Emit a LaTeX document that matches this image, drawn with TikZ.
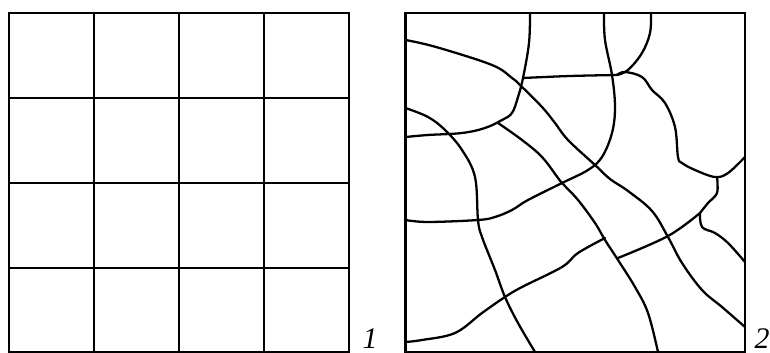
\documentclass[tikz,border=0pt]{standalone}
\usepackage{fontspec}
\setmainfont{Liberation Serif}

\tikzset{
  frame/.style={line width=1.4pt},
  crack/.style={line width=1.3pt, line join=round, line cap=round},
  numlabel/.style={font=\fontsize{17}{17}\selectfont\itshape, inner sep=0pt}
}

\begin{document}
\begin{tikzpicture}[x=0.2mm,y=-0.2mm]
  \useasboundingbox (0,0) rectangle (770,353);

  % Regular grid (left square)
  \draw[frame] (9,13) rectangle (349,352);
  \foreach \i in {1,2,3} {
    \draw[frame] (9+85*\i,13) -- (9+85*\i,352);
    \draw[frame] (9,13+85*\i) -- (349,13+85*\i);
  }
  \node[numlabel] (lblgrid) at (370,339) {1};

  % Irregular network (right square)
  \draw[frame] (405.5,13) rectangle (745,352);
  \draw[crack] plot[smooth,tension=0.6] coordinates {(405.5,40) (436,47) (492,65) (512,78) (520,85) (542,107) (555,123) (568,140) (595,165) (610,179) (628,191) (652,211) (668,237) (682,263) (702,290) (722,307) (745,327)};
  \draw[crack] plot[smooth,tension=0.6] coordinates {(530,13) (529,43) (523,78) (518,97) (512,113) (502,120) (485,128) (462,133) (428,135) (405.5,137)};
  \draw[crack] plot[smooth,tension=0.6] coordinates {(523,78) (570,76) (617,75)};
  \draw[crack] plot[smooth,tension=0.6] coordinates {(604,13) (605,40) (612,75) (615,107) (612,133) (602,157) (588,170) (562,183) (528,200) (512,210) (495,217) (478,220) (428,222) (405.5,220)};
  \draw[crack] plot[smooth,tension=0.6] coordinates {(405.5,108) (428,117) (445,130) (462,150) (475,177) (478,220) (482,237) (495,270) (505,297) (518,323) (535,352)};
  \draw[crack] plot[smooth,tension=0.6] coordinates {(498,123) (522,140) (542,157) (558,178) (562,183) (578,200) (595,223) (605,240) (618,260) (635,287) (648,313) (658,352)};
  \draw[crack] plot[smooth,tension=0.6] coordinates {(651,13) (650,33) (642,53) (628,70) (617,75)};
  \draw[crack] plot[smooth,tension=0.6] coordinates {(617,75) (625,72) (642,77) (652,90) (665,103) (675,127) (678,157) (682,163) (695,170) (715,177) (728,173) (745,157)};
  \draw[crack] plot[smooth,tension=0.6] coordinates {(717,177) (717,193) (708,203) (700,213)};
  \draw[crack] plot[smooth,tension=0.6] coordinates {(700,213) (668,236) (618,258)};
  \draw[crack] plot[smooth,tension=0.6] coordinates {(605,238) (578,253) (562,267) (522,287) (505,297) (482,313) (455,333) (422,340) (405.5,342)};
  \draw[crack] plot[smooth,tension=0.6] coordinates {(700,213) (702,227) (715,233) (728,243) (745,262)};
  \node[numlabel] (lblcrack) at (762,339) {2};
\end{tikzpicture}
\end{document}
